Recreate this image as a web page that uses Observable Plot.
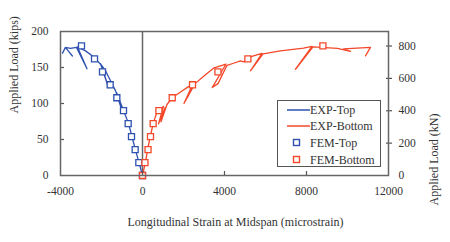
<!DOCTYPE html>
<html><head><meta charset="utf-8">
<script src="https://cdn.jsdelivr.net/npm/d3@7"></script>
<script src="https://cdn.jsdelivr.net/npm/@observablehq/plot@0.6"></script>
<style>
body{margin:0;background:#fff;}
#wrap{position:relative;width:450px;height:242px;font-family:"Liberation Serif",serif;}
#wrap svg, #wrap svg text{font-family:"Liberation Serif",serif !important;}
#legend{position:absolute;left:277px;top:100px;width:104px;height:67px;border:1.5px solid #555;background:#fff;box-sizing:border-box;}
.item{position:absolute;left:0;width:100px;height:16px;font-size:12px;color:#333;line-height:16px;}
.item .lab{position:absolute;left:32px;top:0;white-space:nowrap;}
.item svg{position:absolute;left:8px;top:0;}
</style></head><body><div id="wrap"><div id="legend"></div></div>
<script>
// ---- data ----
const expTopStrain = [0, -122, -341, -512, -683, -927, -1171, -1268, -1049, -1317, -1561, -1805, -2049, -1659, -2000, -2390, -2780, -3171, -2707, -3220, -3512, -3760, -3900, -3760, -3420];
const expTopLoad   = [0, 13.1, 35.2, 53.8, 72.4, 90.3, 108.3, 115.2, 94.5, 117.9, 131.7, 145.5, 155.2, 122.1, 153.1, 164.8, 173.1, 178.6, 148.3, 177.9, 176.6, 177.9, 170.0, 177.9, 166.0];

const expBotStrain = [0, 146, 244, 390, 537, 732, 1024, 780, 1098, 902, 1195, 1463, 1854, 2244, 2488, 2024, 2561, 3073, 3463, 4073, 3400, 3683, 4122, 4439, 4780, 4951, 5122, 5415, 5829, 5268, 5878, 6732, 7854, 8268, 7463, 8317, 9512, 10146, 9805, 11122, 10878];
const expBotLoad   = [0, 18.6, 35.2, 55.9, 73.8, 90.3, 95.9, 71.7, 93.8, 74.5, 98.6, 108.3, 115.9, 123.4, 129.0, 100.0, 127.6, 140.0, 149.0, 154.8, 122.1, 127.6, 153.1, 155.9, 159.3, 157.9, 163.4, 166.2, 169.7, 145.5, 169.0, 173.1, 176.8, 179.3, 147.6, 178.6, 176.6, 172.4, 175.9, 177.9, 166.2];

const femTopStrain = [0, -179, -358, -537, -699, -927, -1252, -1577, -1951, -2341, -2976];
const femTopLoad   = [0, 18, 36, 54, 72, 90, 108, 126, 144, 162, 180];

const femBotStrain = [0, 120, 270, 390, 520, 800, 1450, 2440, 3680, 5140, 8800];
const femBotLoad   = [0, 18, 36, 54, 72, 90, 108, 126, 144, 162, 180];

const xTicks = [-4000, 0, 4000, 8000, 12000];
const yTicks = [0, 50, 100, 150, 200];
const kNTicks = [0, 200, 400, 600, 800];
const seriesNames = ["EXP-Top", "EXP-Bottom", "FEM-Top", "FEM-Bottom"];
const xLabel = "Longitudinal Strain at Midspan (microstrain)";
const yLabel = "Applied Load (kips)";
const y2Label = "Applied Load (kN)";
const KN_PER_KIP = 4.44822;

// ---- chart ----
const BLUE = "#2f52b0", RED = "#f4482a";
const FONT = "Liberation Serif";
const W = 450, H = 242, mL = 60, mR = 62, mT = 31, mB = 67;
const innerW = W - mL - mR, innerH = H - mT - mB;
const pts = (xs, ys) => xs.map((x, i) => ({x, y: ys[i]}));
const expTop = pts(expTopStrain, expTopLoad);
const expBot = pts(expBotStrain, expBotLoad);
const femTop = pts(femTopStrain, femTopLoad);
const femBot = pts(femBotStrain, femBotLoad);
const fmt = d => String(d);

const chart = Plot.plot({
  width: W, height: H,
  marginLeft: mL, marginRight: mR, marginTop: mT, marginBottom: mB,
  style: "font-family:'Liberation Serif',serif;font-size:11px;color:#333;background:white;overflow:visible;",
  x: {domain: [-4000, 12000]},
  y: {domain: [0, 200]},
  marks: [
    Plot.ruleX([0], {stroke: "#666", strokeWidth: 1.5}),
    Plot.line(expTop, {x: "x", y: "y", stroke: BLUE, strokeWidth: 1.3}),
    Plot.line(expBot, {x: "x", y: "y", stroke: RED, strokeWidth: 1.3}),
    Plot.dot(femTop, {x: "x", y: "y", symbol: "square", r: 3.4, stroke: BLUE, fill: "white", strokeWidth: 1.3}),
    Plot.dot(femBot, {x: "x", y: "y", symbol: "square", r: 3.4, stroke: RED, fill: "white", strokeWidth: 1.3}),
    Plot.axisX(xTicks, {tickSize: 0, tickPadding: 11, tickFormat: fmt, label: null, fontFamily: FONT, fontSize: 11.5}),
    Plot.axisY(yTicks, {anchor: "left", tickSize: 0, tickPadding: 12, tickFormat: fmt, label: null, fontFamily: FONT, fontSize: 11.5}),
    Plot.axisY(kNTicks.map(k => k / KN_PER_KIP), {anchor: "right", tickSize: 0, tickPadding: 10, tickFormat: d => String(Math.round(d * KN_PER_KIP)), label: null, fontFamily: FONT, fontSize: 11.5}),
    Plot.tickY(yTicks.slice(1, -1), {y: d => d, insetRight: innerW - 4, stroke: "#555", strokeWidth: 1.2}),
    Plot.tickY(kNTicks.slice(1).map(k => k / KN_PER_KIP), {y: d => d, insetLeft: innerW - 2, insetRight: -4, stroke: "#555", strokeWidth: 1.2}),
    Plot.tickX(xTicks.slice(1, -1), {x: d => d, insetTop: innerH - 4, stroke: "#555", strokeWidth: 1.2}),
    Plot.frame({stroke: "#666", strokeWidth: 1.5}),
    Plot.text([xLabel], {frameAnchor: "bottom", dx: 11, dy: 50, fontSize: 12, fill: "#333", fontFamily: FONT}),
    Plot.text([yLabel], {frameAnchor: "left", dx: -46, dy: 10, rotate: -90, fontSize: 12, fill: "#333", fontFamily: FONT}),
    Plot.text([y2Label], {frameAnchor: "right", dx: 46, dy: 10, rotate: -90, fontSize: 12, fill: "#333", fontFamily: FONT})
  ]
});
const wrap = document.getElementById("wrap");
wrap.insertBefore(chart, wrap.firstChild);

// ---- legend ----
const legend = document.getElementById("legend");
const colors = [BLUE, RED, BLUE, RED];
const rowTops = [1, 17, 34, 51];
seriesNames.forEach((name, i) => {
  const item = document.createElement("div");
  item.className = "item";
  item.style.top = rowTops[i] + "px";
  const sw = i < 2
    ? `<svg width="24" height="16"><line x1="1" x2="24" y1="8" y2="8" stroke="${colors[i]}" stroke-width="1.5"/></svg>`
    : `<svg width="24" height="16"><rect x="7.5" y="4.5" width="6" height="6" fill="white" stroke="${colors[i]}" stroke-width="1.4"/></svg>`;
  item.innerHTML = sw + `<span class="lab">${name}</span>`;
  legend.appendChild(item);
});
</script>
</body></html>
